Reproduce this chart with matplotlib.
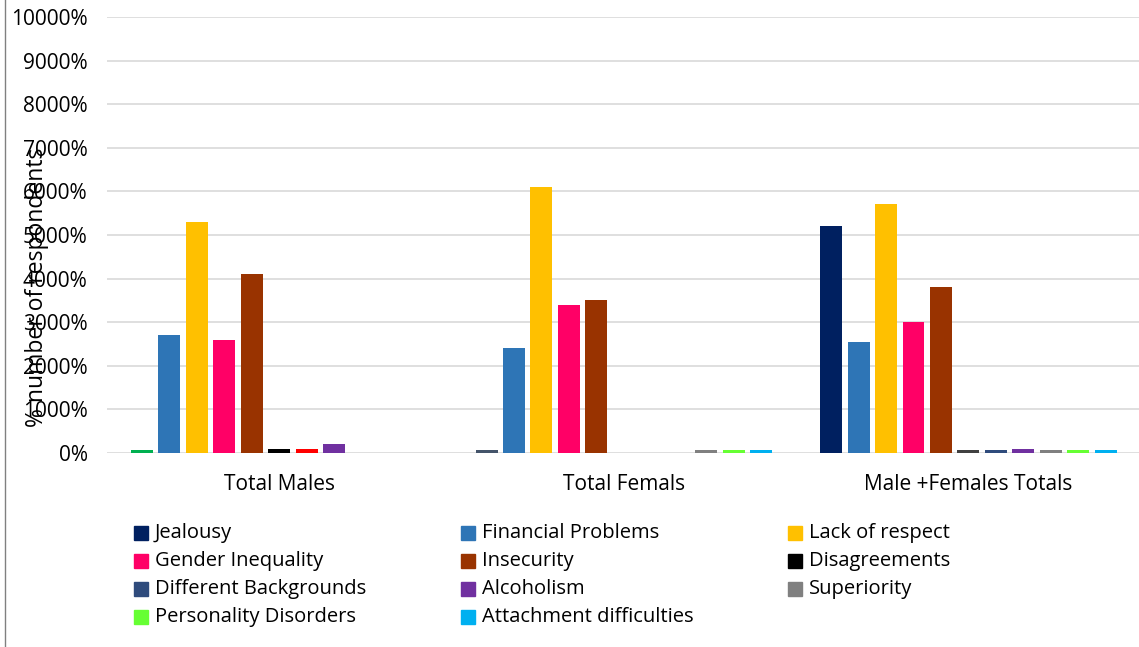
import matplotlib.pyplot as plt
import matplotlib.patches as mpatches
from matplotlib.lines import Line2D
from matplotlib.ticker import FuncFormatter, MultipleLocator
import numpy as np

plt.rcParams['font.family'] = ['Open Sans', 'DejaVu Sans']

groups = ['Total Males', 'Total Femals', 'Male +Females Totals']
causes = ['Jealousy', 'Financial Problems', 'Lack of respect', 'Gender Inequality',
          'Insecurity', 'Disagreements', 'Different Backgrounds', 'Alcoholism',
          'Superiority', 'Personality Disorders', 'Attachment difficulties']
colors = ['#002060', '#2E75B6', '#FFC000', '#FF0066', '#993300', '#000000',
          '#2F4B7C', '#7030A0', '#808080', '#66FF33', '#00B0F0']

# values per cause, one per group (shown x100 as %)
jealousy = [0.6, 0.6, 52]
financial = [27, 24, 25.5]
lack_respect = [53, 61, 57]
gender = [26, 34, 30]
insecurity = [41, 35, 38]
disagreements = [1, 0, 0.6]
backgrounds = [1, 0, 0.6]
alcoholism = [2, 0, 1]
superiority = [0, 0.6, 0.6]
personality = [0, 0.6, 0.6]
attachment = [0, 0.6, 0.6]
values = [jealousy, financial, lack_respect, gender, insecurity, disagreements,
          backgrounds, alcoholism, superiority, personality, attachment]

# single points that were recoloured in the original sheet
point_colors = {(0, 0): '#00B050', (6, 0): '#FF0000', (0, 1): '#44546A', (5, 2): '#404040'}

fig = plt.figure(figsize=(11.39, 6.47), dpi=100)
ax = fig.add_axes([107/1139, 1-453/647, 1032/1139, 436/647])

x = np.arange(len(groups))
step = 27.5/345
width = 22/345
for i, vals in enumerate(values):
    xs = x + (i - 5) * step
    cols = [point_colors.get((i, g), colors[i]) for g in range(len(groups))]
    ax.bar(xs, vals, width=width, color=cols, linewidth=0, zorder=3)

ax.set_xlim(-0.5, 2.495)
ax.set_ylim(0, 100)
ax.yaxis.set_major_locator(MultipleLocator(10))
ax.yaxis.set_major_formatter(FuncFormatter(lambda v, p: f'{v*100:.0f}%'))
ax.grid(axis='y', color='#D9D9D9', linewidth=1.2, zorder=0)
ax.set_axisbelow(True)
for s in ax.spines.values():
    s.set_visible(False)
ax.set_xticks(x)
ax.set_xticklabels(groups)
ax.tick_params(length=0, labelsize=15, colors='#000000')
ax.tick_params(axis='y', pad=14)
ax.tick_params(axis='x', pad=15)

fig.text(37/1139, 1-287/647, '% number of respondents', rotation=90,
         ha='center', va='center', fontsize=16.5)

# legend laid out row by row in three columns
col_x = [134, 461, 788]
row_y = [533, 561, 589, 617]
for i, name in enumerate(causes):
    r, c = divmod(i, 3)
    px, py = col_x[c], row_y[r]
    fig.patches.append(mpatches.Rectangle((px/1139, 1-(py+7)/647), 14/1139, 14/647,
                                          transform=fig.transFigure, color=colors[i]))
    fig.text((px+21)/1139, 1-py/647, name, ha='left', va='center', fontsize=14.5)

fig.add_artist(Line2D([5/1139, 5/1139], [0, 1], color='#808080', linewidth=1))

fig.savefig('out.png', dpi=100)
